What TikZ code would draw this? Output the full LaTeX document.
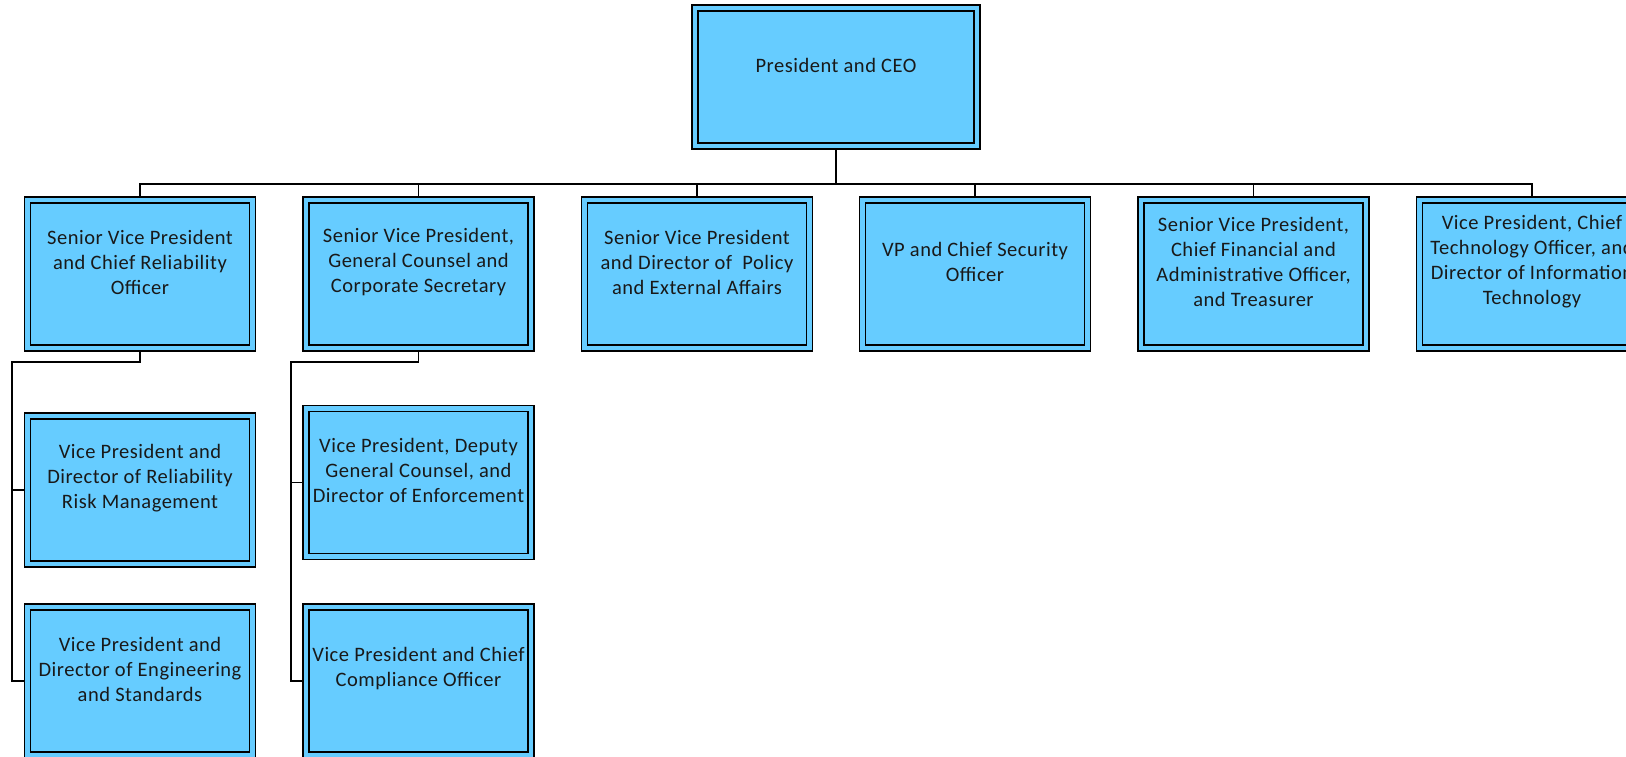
\documentclass[tikz,border=0pt]{standalone}
\usepackage{fontspec}
\setmainfont{Carlito}
\newfontfamily\boxfont[LetterSpace=2.5]{Carlito}
\usetikzlibrary{backgrounds}
\definecolor{boxblue}{RGB}{102,204,255}
\tikzset{
  orgbox/.style={draw=black, fill=boxblue, double=boxblue, line width=1.4pt,
    double distance=4.6pt, rectangle, inner sep=0pt,
    minimum width=#1-6pt, minimum height=148pt},
  orgbox/.default=231pt,
  lbl/.style={align=center, font=\boxfont\fontsize{20.5}{25}\selectfont, text=black!90, inner sep=0pt},
  conn/.style={line width=1.6pt, black}
}
\begin{document}
\begin{tikzpicture}[x=1pt,y=-1pt]
\useasboundingbox (0,0) rectangle (1626,757);
\clip (0,0) rectangle (1626,757);
% top
\node[orgbox=288pt, minimum height=138pt] (ceo) at (836,77) {};
\node[lbl] (ceot) at (836,65) {President and CEO};
% row 1
\node[orgbox] (b1) at (140,274) {};
\node[orgbox] (b2) at (418.5,274) {};
\node[orgbox] (b3) at (697,274) {};
\node[orgbox] (b4) at (975,274) {};
\node[orgbox] (b5) at (1253.5,274) {};
\node[orgbox] (b6) at (1532,274) {};
\node[lbl] (b1t) at (140,262) {Senior Vice President\\and Chief Reliability\\Officer};
\node[lbl] (b2t) at (418.5,262) {Senior Vice President,\\General Counsel and\\Corporate Secretary};
\node[lbl] (b3t) at (697,262) {Senior Vice President\\and Director of \ Policy\\and External Affairs};
\node[lbl] (b4t) at (975,262) {VP and Chief Security\\Officer};
\node[lbl] (b5t) at (1253.5,262) {Senior Vice President,\\Chief Financial and\\Administrative Officer,\\and Treasurer};
\node[lbl] (b6t) at (1532,262) {Vice President, Chief\\Technology Officer, and\\Director of Information\\Technology};
% children col 1
\node[orgbox] (c11) at (140,490) {};
\node[orgbox] (c12) at (140,681) {};
\node[lbl] (c11t) at (140,478) {Vice President and\\Director of Reliability\\Risk Management};
\node[lbl] (c12t) at (140,669) {Vice President and\\Director of Engineering\\and Standards};
% children col 2
\node[orgbox] (c21) at (418.5,482.5) {};
\node[orgbox] (c22) at (418.5,681) {};
\node[lbl] (c21t) at (418.5,470) {Vice President, Deputy\\General Counsel, and\\Director of Enforcement};
\node[lbl] (c22t) at (418.5,669) {Vice President and Chief\\Compliance Officer};
% connectors
\coordinate (bus) at (836,184);
\coordinate (s1) at (12,362);
\coordinate (s2) at (291,362);
\begin{scope}[on background layer]
  \foreach \b in {b1,b2,b3,b4,b5,b6}
    \draw[conn] (ceo.center) -- (bus) -| (\b.center);
  \draw[conn] (b1.center) |- (s1) |- (c11.center);
  \draw[conn] (s1) |- (c12.center);
  \draw[conn] (b2.center) |- (s2) |- (c21.center);
  \draw[conn] (s2) |- (c22.center);
\end{scope}
\end{tikzpicture}
\end{document}
